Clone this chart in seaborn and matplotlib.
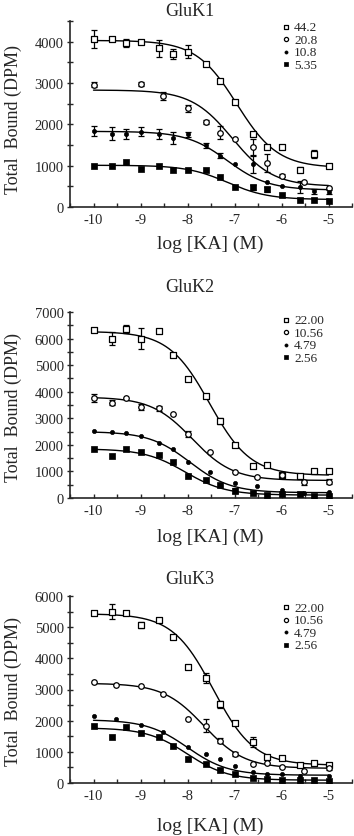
import numpy as np
import pandas as pd
import matplotlib
matplotlib.use('Agg')
import matplotlib.pyplot as plt
from matplotlib.ticker import MultipleLocator
import seaborn as sns


# Concentrations (log M) used for most series
log_ka = [-10, -9.6, -9.3, -9, -8.6, -8.3, -8, -7.6, -7.3, -7,
          -6.6, -6.3, -6, -5.6, -5.3, -5]

# ---- GluK1 ----
k1_labels = ['44.2', '20.8', '10.8', '5.35']
k1_sq_y = [4056, 4064, 3960, 3990, 3840, 3700, 3760, 3456, 3040, 2540,
           1760, 1456, 1440, 900, 1280, 1000]
k1_sq_err = [220, 50, 100, 0, 200, 120, 150, 0, 0, 60, 0, 50, 0, 60, 100, 50]
k1_oc_x = [-10, -9, -8.52, -8, -7.6, -7.3, -7, -6.6, -6.3, -6, -5.52, -5]
k1_oc_y = [2960, 2976, 2680, 2384, 2056, 1800, 1640, 1440, 1064, 760, 600, 456]
k1_oc_err = [60, 60, 100, 80, 60, 150, 0, 200, 220, 40, 0, 0]
k1_fc_y = [1840, 1776, 1776, 1824, 1760, 1664, 1760, 1496, 1240, 1040,
           1040, 600, 496, 480, 376, 360]
k1_fc_err = [120, 150, 120, 100, 120, 150, 60, 60, 60, 0, 220, 0, 0, 150, 60, 40]
k1_fs_y = [1000, 984, 1080, 920, 1000, 904, 904, 896, 720, 480,
           480, 424, 280, 176, 176, 144]
k1_fs_err = [0, 0, 0, 0, 0, 0, 0, 0, 0, 0, 60, 60, 0, 0, 0, 0]
k1_top = [4030, 2830, 1830, 1010]
k1_bottom = [950, 500, 410, 180]
k1_logic50 = [-6.95, -7.05, -7.15, -7.15]

# ---- GluK2 ----
k2_labels = ['22.00', '10.56', '4.79', '2.56']
k2_sq_y = [6330, 6000, 6350, 6000, 6280, 5400, 4470, 3840, 2900, 2000,
           1210, 1240, 860, 840, 1000, 1030]
k2_sq_err = [60, 250, 150, 400, 0, 0, 50, 0, 100, 0, 0, 80, 100, 0, 0, 0]
k2_oc_x = [-10, -9.6, -9.3, -9, -8.6, -8.3, -8, -7.52, -7, -6.52, -6, -5.52, -5]
k2_oc_y = [3750, 3590, 3780, 3430, 3380, 3150, 2400, 1740, 990, 800, 850, 590, 610]
k2_oc_err = [150, 100, 0, 120, 100, 0, 120, 0, 0, 0, 0, 100, 100]
k2_fc_x = [-10, -9.6, -9.3, -9, -8.6, -8.3, -8, -7.52, -7, -6.52, -6, -5.52, -5]
k2_fc_y = [2510, 2500, 2460, 2340, 2060, 1860, 1340, 990, 560, 440, 310, 200, 210]
k2_fc_err = [0] * 13
k2_fs_y = [1840, 1590, 1840, 1720, 1615, 1340, 840, 680, 490, 280,
           190, 110, 150, 150, 90, 90]
k2_fs_err = [0, 0, 0, 0, 0, 0, 0, 0, 0, 100, 0, 0, 0, 0, 0, 0]
k2_top = [6270, 3800, 2500, 1850]
k2_bottom = [850, 660, 200, 110]
k2_logic50 = [-7.53, -7.9, -7.95, -8.05]

# ---- GluK3 ----
k3_labels = ['22.00', '10.56', '4.79', '2.56']
k3_sq_y = [5470, 5500, 5470, 5070, 5220, 4690, 3710, 3370, 2520, 1930,
           1310, 830, 800, 590, 650, 565]
k3_sq_err = [50, 250, 0, 100, 0, 0, 0, 150, 100, 0, 150, 0, 0, 0, 0, 50]
k3_oc_x = [-10, -9.52, -9, -8.52, -8, -7.6, -7.3, -7, -6.6, -6.3, -6, -5.52, -5]
k3_oc_y = [3230, 3150, 3120, 2860, 2040, 1840, 1360, 940, 600, 640, 510, 400, 490]
k3_oc_err = [0, 0, 0, 0, 0, 200, 80, 60, 0, 0, 0, 0, 60]
k3_fc_x = [-10, -9.52, -9, -8.52, -8, -7.6, -7.3, -7, -6.6, -6.3, -6, -5.6, -5]
k3_fc_y = [2140, 2040, 1860, 1650, 1150, 940, 760, 530, 350, 300, 280, 210, 210]
k3_fc_err = [0] * 13
k3_fs_y = [1840, 1480, 1810, 1610, 1470, 1190, 770, 620, 430, 280,
           150, 130, 110, 85, 85, 60]
k3_fs_err = [0] * 16
k3_top = [5430, 3200, 2030, 1770]
k3_bottom = [570, 470, 250, 90]
k3_logic50 = [-7.45, -7.65, -8.0, -8.0]


# marker styles for the four series: open square, open circle, dot, filled square
styles = [dict(marker='s', s=18, facecolor='white', linewidth=0.9),
          dict(marker='o', s=16, facecolor='white', linewidth=0.9),
          dict(marker='o', s=9, facecolor='black', linewidth=0.5),
          dict(marker='s', s=14, facecolor='black', linewidth=0.5)]


def one_site(x, top, bottom, logic50):
    return bottom + (top - bottom) / (1 + 10 ** (x - logic50))


def draw_panel(ax, series, labels, tops, bottoms, logic50s, ymax, leg_y):
    xfit = np.linspace(-10, -5, 300)
    for (x, y, err), lab, top, bot, ic, st in zip(series, labels, tops,
                                                   bottoms, logic50s, styles):
        sns.lineplot(x=xfit, y=one_site(xfit, top, bot, ic), color='black',
                     linewidth=1, ax=ax, zorder=1)
        df = pd.DataFrame({'x': x, 'y': y, 'err': err})
        e = df[df['err'] > 0]
        ax.errorbar(e['x'], e['y'], yerr=e['err'], fmt='none', ecolor='black',
                    elinewidth=0.9, capsize=2, capthick=0.9, zorder=2)
        sns.scatterplot(data=df, x='x', y='y', marker=st['marker'], s=st['s'],
                        facecolor=st['facecolor'], edgecolor='black',
                        linewidth=st['linewidth'], label=lab, ax=ax, zorder=3)
    ax.set_xlim(-10.5, -4.5)
    ax.set_ylim(0, ymax)
    ax.xaxis.set_major_locator(MultipleLocator(1))
    ax.xaxis.set_minor_locator(MultipleLocator(0.5))
    ax.yaxis.set_major_locator(MultipleLocator(1000))
    ax.yaxis.set_minor_locator(MultipleLocator(500))
    ax.set_xticks([-10, -9, -8, -7, -6, -5])
    ax.set_xticklabels(['-10', '-9', '-8', '-7', '-6', '-5'])
    ax.tick_params(axis='x', which='both', direction='in', length=3,
                   width=1, pad=4, labelsize=10.5)
    ax.tick_params(axis='y', which='both', direction='inout', length=5,
                   width=1, pad=2, labelsize=10.5)
    ax.set_xlabel('')
    ax.set_ylabel('')
    for sp in ['left', 'bottom']:
        ax.spines[sp].set_linewidth(1.2)
    sns.despine(ax=ax)
    ax.legend(loc='upper left', bbox_to_anchor=(0.745, leg_y), frameon=False,
              fontsize=9.5, handletextpad=0.15, borderpad=0, labelspacing=0.02,
              handlelength=0.9, borderaxespad=0, markerscale=0.75)


sns.set_theme(style='ticks')
plt.rcParams['font.family'] = ['Liberation Serif', 'DejaVu Serif']
plt.rcParams['mathtext.fontset'] = 'stix'

fig = plt.figure(figsize=(3.54, 8.37), dpi=100)
left, width, height = 70 / 354, 282 / 354, 186 / 837
ax1 = fig.add_axes([left, 1 - 208 / 837, width, height])
ax2 = fig.add_axes([left, 1 - 499 / 837, width, height])
ax3 = fig.add_axes([left, 1 - 784 / 837, width, 187 / 837])

draw_panel(ax1, [(log_ka, k1_sq_y, k1_sq_err), (k1_oc_x, k1_oc_y, k1_oc_err),
                 (log_ka, k1_fc_y, k1_fc_err), (log_ka, k1_fs_y, k1_fs_err)],
           k1_labels, k1_top, k1_bottom, k1_logic50, 4500, 1.0)
draw_panel(ax2, [(log_ka, k2_sq_y, k2_sq_err), (k2_oc_x, k2_oc_y, k2_oc_err),
                 (k2_fc_x, k2_fc_y, k2_fc_err), (log_ka, k2_fs_y, k2_fs_err)],
           k2_labels, k2_top, k2_bottom, k2_logic50, 7000, 0.99)
draw_panel(ax3, [(log_ka, k3_sq_y, k3_sq_err), (k3_oc_x, k3_oc_y, k3_oc_err),
                 (k3_fc_x, k3_fc_y, k3_fc_err), (log_ka, k3_fs_y, k3_fs_err)],
           k3_labels, k3_top, k3_bottom, k3_logic50, 6000, 0.97)

# titles and axis labels placed like the figure
titles = ['GluK1', 'GluK2', 'GluK3']
title_y = [12, 288, 580]
xlab_y = [244, 537, 826]
ylab_y = [120, 408, 692]
for t, ty, xy, yy in zip(titles, title_y, xlab_y, ylab_y):
    fig.text(190 / 354, 1 - ty / 837, t, ha='center', va='center', fontsize=13)
    fig.text(210 / 354, 1 - xy / 837, 'log [KA] (M)', ha='center',
             va='center', fontsize=14)
    fig.text(13 / 354, 1 - yy / 837, 'Total  Bound (DPM)', ha='center',
             va='center', rotation=90, fontsize=13)

fig.savefig('out.png', dpi=100)
